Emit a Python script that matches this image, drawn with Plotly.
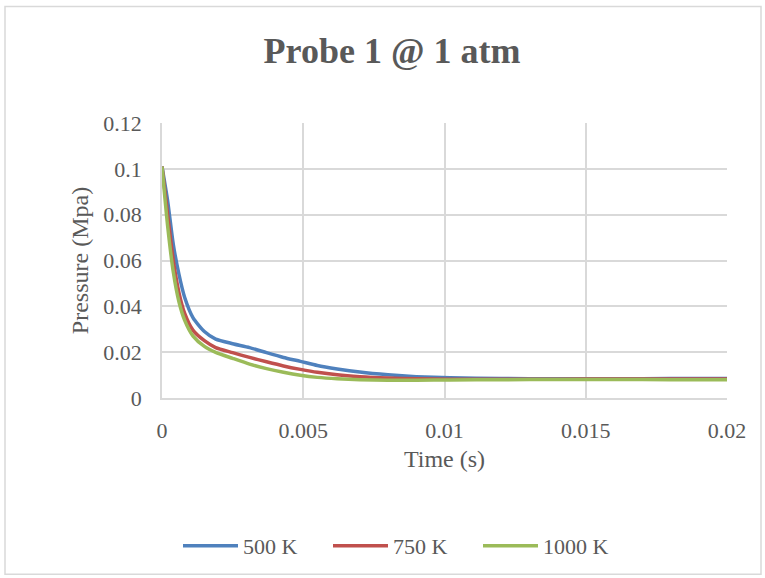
import plotly.graph_objects as go

time_s = [0, 0.0002, 0.0004, 0.0006, 0.0008, 0.0011, 0.0015, 0.0019, 0.0025, 0.0031, 0.0037, 0.0043, 0.0049, 0.0055, 0.0062, 0.0070, 0.0080, 0.0090, 0.0102, 0.0120, 0.0140, 0.0160, 0.0180, 0.0200]
p_500 = [0.101, 0.086, 0.067, 0.054, 0.044, 0.035, 0.029, 0.0257, 0.0237, 0.022, 0.0198, 0.0177, 0.016, 0.0142, 0.0127, 0.0113, 0.0101, 0.0093, 0.0088, 0.0085, 0.0084, 0.0084, 0.0085, 0.0085]
p_750 = [0.101, 0.080, 0.060, 0.046, 0.037, 0.0295, 0.025, 0.022, 0.0198, 0.0177, 0.0158, 0.014, 0.0125, 0.0112, 0.0101, 0.0093, 0.0087, 0.0084, 0.0082, 0.0082, 0.0082, 0.0083, 0.0083, 0.0083]
p_1000 = [0.101, 0.075, 0.055, 0.042, 0.034, 0.027, 0.0225, 0.0199, 0.0173, 0.0148, 0.0128, 0.0112, 0.0099, 0.009, 0.0084, 0.008, 0.0078, 0.0078, 0.0079, 0.008, 0.0081, 0.0081, 0.008, 0.008]

series_names = ["500 K", "750 K", "1000 K"]
series_colors = ["#4F81BD", "#C0504D", "#9BBB59"]

x_ticks = [0, 0.005, 0.01, 0.015, 0.02]
x_ticktext = ["0", "0.005", "0.01", "0.015", "0.02"]
y_ticks = [0, 0.02, 0.04, 0.06, 0.08, 0.1, 0.12]
y_ticktext = ["0", "0.02", "0.04", "0.06", "0.08", "0.1", "0.12"]

W, H = 765, 578
L, R, T, B = 162, 38, 123, 179
pw, ph = W - L - R, H - T - B

fig = go.Figure()
for name, ys, c in zip(series_names, [p_500, p_750, p_1000], series_colors):
    fig.add_trace(go.Scatter(x=time_s, y=ys, mode="lines", name=name,
                             line=dict(color=c, width=3.5, shape="spline", smoothing=0.6)))

font = "Liberation Serif, Times New Roman, serif"
fig.update_layout(
    width=W, height=H,
    margin=dict(l=L, r=R, t=T, b=B),
    paper_bgcolor="white", plot_bgcolor="white",
    font=dict(family=font, color="#595959", size=22),
    title=dict(text="<b>Probe 1 @ 1 atm</b>", x=392 / W, xref="container", xanchor="center",
               y=1 - 50 / H, yanchor="middle",
               font=dict(family=font, size=36, color="#595959")),
    showlegend=True,
    legend=dict(orientation="h", x=(178 - L) / pw, xanchor="left", y=(H - B - 546) / ph, yanchor="middle",
                font=dict(family=font, size=22, color="#595959"), itemwidth=55,
                entrywidth=80, entrywidthmode="pixels", bgcolor="rgba(0,0,0,0)"),
    xaxis=dict(range=[0, 0.02], tickvals=x_ticks, ticktext=x_ticktext, showgrid=True, gridcolor="#d9d9d9",
               gridwidth=1.5, zeroline=False, showline=True, linecolor="#d9d9d9", linewidth=1.5,
               ticks="", ticklabelstandoff=12, tickfont=dict(size=22),
               title=dict(text="Time (s)", font=dict(family=font, size=24, color="#595959"), standoff=8)),
    yaxis=dict(range=[0, 0.12], tickvals=y_ticks, ticktext=y_ticktext, showgrid=True, gridcolor="#d9d9d9",
               gridwidth=1.5, zeroline=False, showline=True, linecolor="#d9d9d9", linewidth=1.5,
               ticks="", ticklabelstandoff=14, tickfont=dict(size=22),
               title=dict(text="Pressure (Mpa)", font=dict(family=font, size=24, color="#595959"), standoff=8)),
    shapes=[dict(type="rect", xref="paper", yref="paper",
                 x0=(5 - L) / pw, x1=(761 - L) / pw, y0=(H - B - 576) / ph, y1=(H - B - 6) / ph,
                 line=dict(color="#d9d9d9", width=1.5), fillcolor="rgba(0,0,0,0)", layer="below")],
)

fig.write_html("out.html")
